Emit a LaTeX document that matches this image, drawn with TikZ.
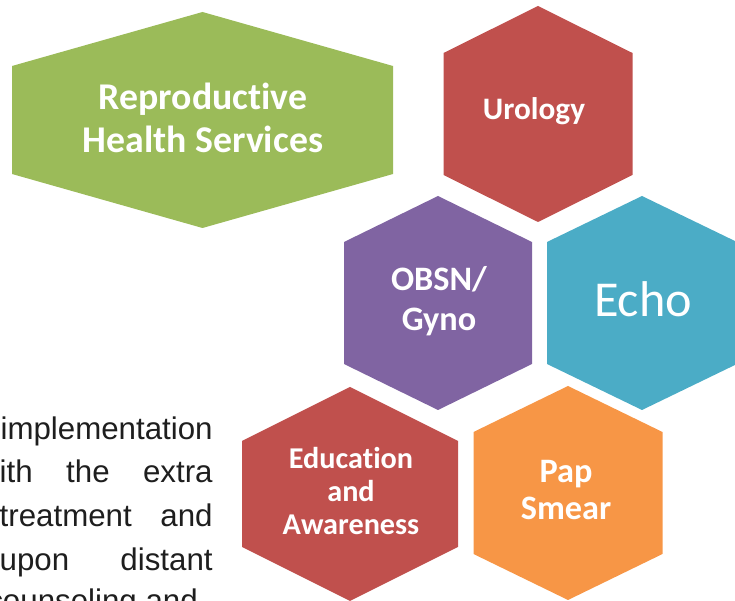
\documentclass[tikz,border=0pt]{standalone}
\usepackage{fontspec}
\setmainfont[Ligatures=NoCommon]{Carlito}
\newfontfamily\parafont{Liberation Sans}
\usetikzlibrary{positioning}
\definecolor{hxGreen}{RGB}{155,187,89}
\definecolor{hxRed}{RGB}{192,80,77}
\definecolor{hxPurple}{RGB}{128,100,162}
\definecolor{hxTeal}{RGB}{75,172,198}
\definecolor{hxOrange}{RGB}{247,150,70}
\definecolor{paraText}{RGB}{30,30,30}

\begin{document}
\begin{tikzpicture}[
    x=0.02cm, y=-0.02cm,
    pics/hexa/.style n args={3}{code={
        \fill (0,-#3) -- (#1,-#2) -- (#1,#2) -- (0,#3) -- (-#1,#2) -- (-#1,-#2) -- cycle;}},
    lbl/.style={text=white, align=center, inner sep=0pt},
    para/.style={font=\parafont\fontsize{17.8}{20}\selectfont, text=paraText, inner sep=0pt}
  ]
  \useasboundingbox (0,0) rectangle (735,601);
  \clip (0,0) rectangle (735,601);

  % hexagons
  \pic[hxGreen] at (202.5,120) {hexa={190.5}{54}{108}};
  \pic[hxRed] at (538,114) {hexa={94.5}{61}{108}};
  \pic[hxPurple] at (438,303) {hexa={94}{61}{107}};
  \pic[hxTeal] at (642,303) {hexa={95}{61}{107}};
  \pic[hxRed] at (350,494) {hexa={108}{53}{107}};
  \pic[hxOrange] at (568,493) {hexa={94.5}{61}{107}};

  \node[lbl, font=\fontsize{21.5}{24.4}\selectfont\bfseries] (rhs) at (203,118) {Reproductive\\Health Services};
  \node[lbl, font=\fontsize{17.8}{20}\selectfont\bfseries] (uro) at (534,111) {Urology};
  \node[lbl, font=\fontsize{19.5}{22.7}\selectfont\bfseries] (obsn) at (439,301) {OBSN/\\Gyno};
  \node[lbl, font=\fontsize{28.6}{32}\selectfont] (echo) at (643,299) {Echo};
  \node[lbl, font=\fontsize{17.2}{18.9}\selectfont\bfseries] (edu) at (351,491) {Education\\and\\Awareness};
  \node[lbl, font=\fontsize{19.5}{21.5}\selectfont\bfseries] (pap) at (566,490) {Pap\\Smear};

  % cut-off paragraph on the left
  \node[para, anchor=base east] (l1) at (213,440) {implementation};
  \node[para, anchor=base east] (l2) at (213,483) {\makebox[4.26cm][s]{ith the extra}};
  \node[para, anchor=base east] (l3) at (213,527) {\makebox[4.26cm][s]{treatment and}};
  \node[para, anchor=base east] (l4) at (213,571) {\makebox[4.26cm][s]{upon distant}};
  \node[para, anchor=base west] (l5) at (-13,612) {counseling and};
\end{tikzpicture}
\end{document}
